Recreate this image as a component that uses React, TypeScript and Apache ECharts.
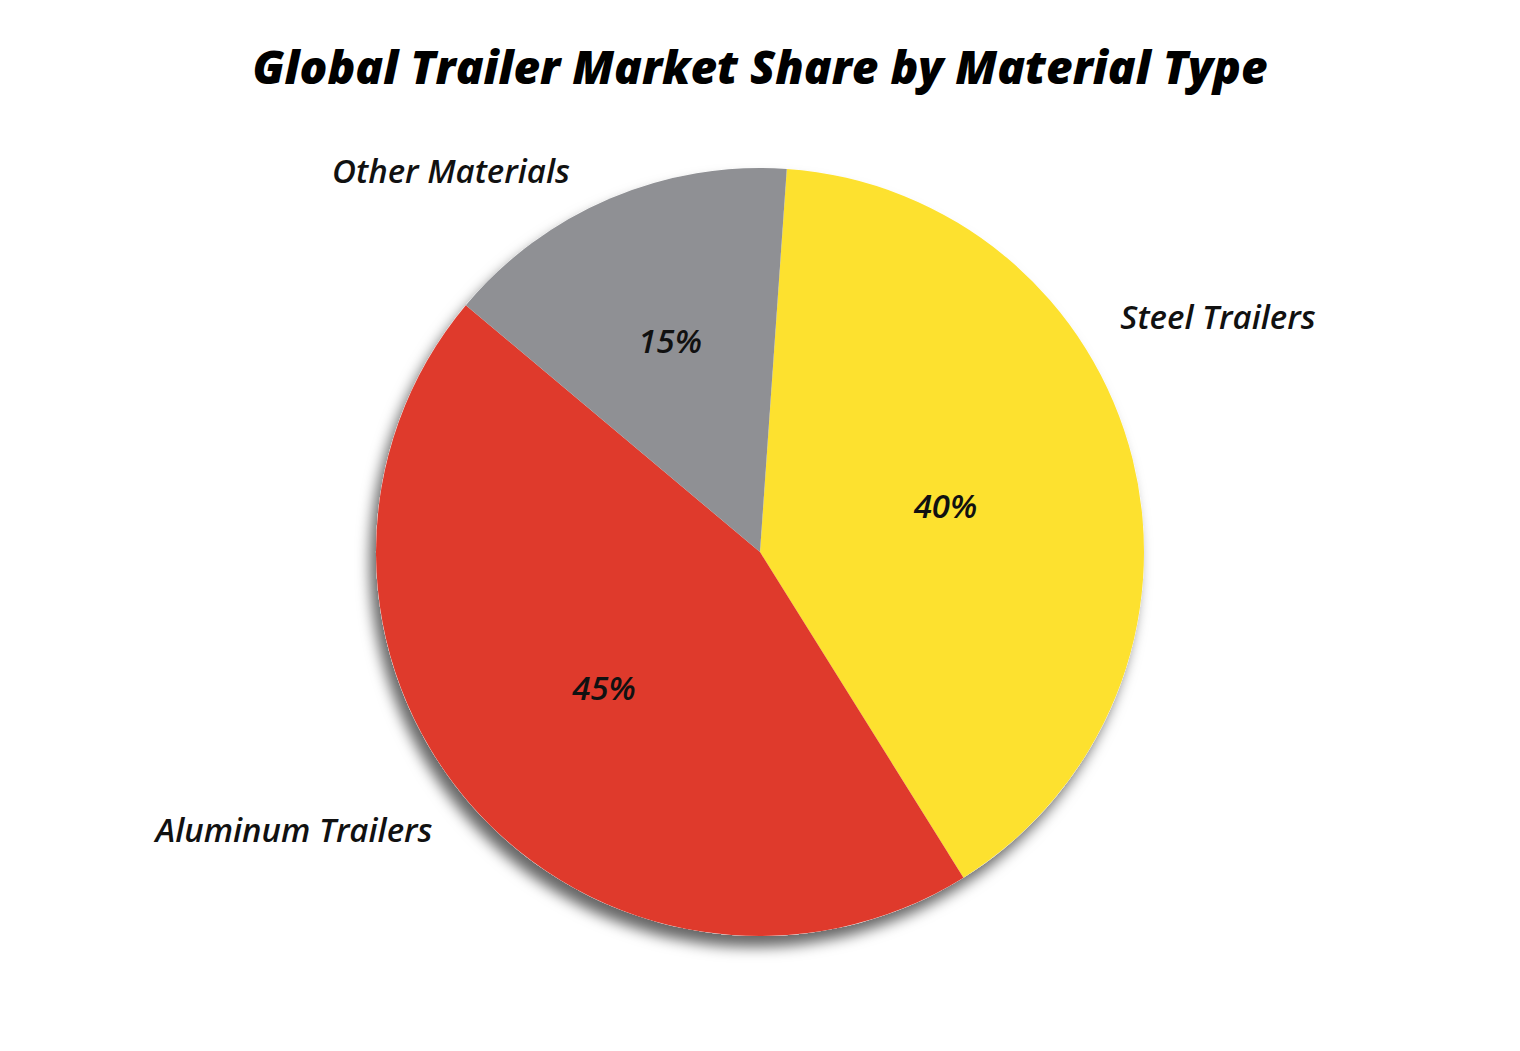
import { useEffect, useRef } from "react";
import * as echarts from "echarts";

// 数据
const categories = ["Steel Trailers", "Aluminum Trailers", "Other Materials"];
const shares = [40, 45, 15];
const colors = ["#FDE12F", "#DF3A2C", "#8F9094"];

// 名称标签的位置（画布像素）
const nameAnchors: Array<[number, number]> = [
  [1218, 316],
  [294, 829],
  [451, 170],
];
// 百分比标签沿半径方向的缩放
const pctRadial = [0.98, 1.06, 1.18];

const CX = 760;
const CY = 552;
const R = 384;
const FONT = "'Open Sans', Lato, sans-serif";

function App() {
  const ref = useRef<HTMLDivElement>(null);

  useEffect(() => {
    if (!ref.current) return;
    const chart = echarts.init(ref.current, undefined, { renderer: "svg" });

    const labelStyle = {
      fontFamily: FONT,
      fontSize: 33,
      fontStyle: "italic",
      fontWeight: 600,
      color: "#111111",
    };

    chart.setOption({
      animation: false,
      backgroundColor: "#ffffff",
      title: {
        text: "Global Trailer Market Share by Material Type",
        left: "center",
        top: 38,
        textStyle: {
          fontFamily: FONT,
          fontSize: 46,
          fontWeight: 800,
          fontStyle: "italic",
          color: "#000000",
        },
      },
      series: [
        // 整圆阴影底层
        {
          name: "shadow",
          type: "pie",
          center: [CX, CY],
          radius: [0, R],
          silent: true,
          z: 1,
          data: [{ name: "", value: 100 }],
          itemStyle: {
            color: "#ffffff",
            shadowBlur: 14,
            shadowOffsetX: -6,
            shadowOffsetY: 11,
            shadowColor: "rgba(0,0,0,0.6)",
          },
          label: { show: false },
          labelLine: { show: false },
        },
        {
          name: "share",
          type: "pie",
          center: [CX, CY],
          radius: [0, R],
          startAngle: 86,
          clockwise: true,
          silent: true,
          z: 2,
          data: categories.map((name, i) => ({
            name,
            value: shares[i],
            itemStyle: { color: colors[i] },
          })),
          label: {
            show: true,
            position: "inside",
            formatter: "{c}%",
            ...labelStyle,
          },
          labelLine: { show: false },
          labelLayout: (params: any) => {
            const r = params.labelRect;
            const lx = r.x + r.width / 2;
            const ly = r.y + r.height / 2;
            const f = pctRadial[params.dataIndex] ?? 1;
            return {
              x: CX + (lx - CX) * f,
              y: CY + (ly - CY) * f,
              align: "center",
              verticalAlign: "middle",
            };
          },
        },
        {
          name: "names",
          type: "pie",
          center: [CX, CY],
          radius: [0, R],
          startAngle: 86,
          clockwise: true,
          silent: true,
          z: 3,
          data: categories.map((name, i) => ({
            name,
            value: shares[i],
            itemStyle: { color: "rgba(0,0,0,0)" },
          })),
          label: {
            show: true,
            position: "outside",
            formatter: "{b}",
            ...labelStyle,
          },
          labelLine: { show: false },
          labelLayout: (params: any) => {
            const p = nameAnchors[params.dataIndex];
            return {
              x: p[0],
              y: p[1],
              align: "center",
              verticalAlign: "middle",
            };
          },
        },
      ],
    });

    return () => {
      chart.dispose();
    };
  }, []);

  return (
    <div
      ref={ref}
      style={{ position: "fixed", left: 0, top: 0, width: 1520, height: 1051 }}
    ></div>
  );
}

export default App;
